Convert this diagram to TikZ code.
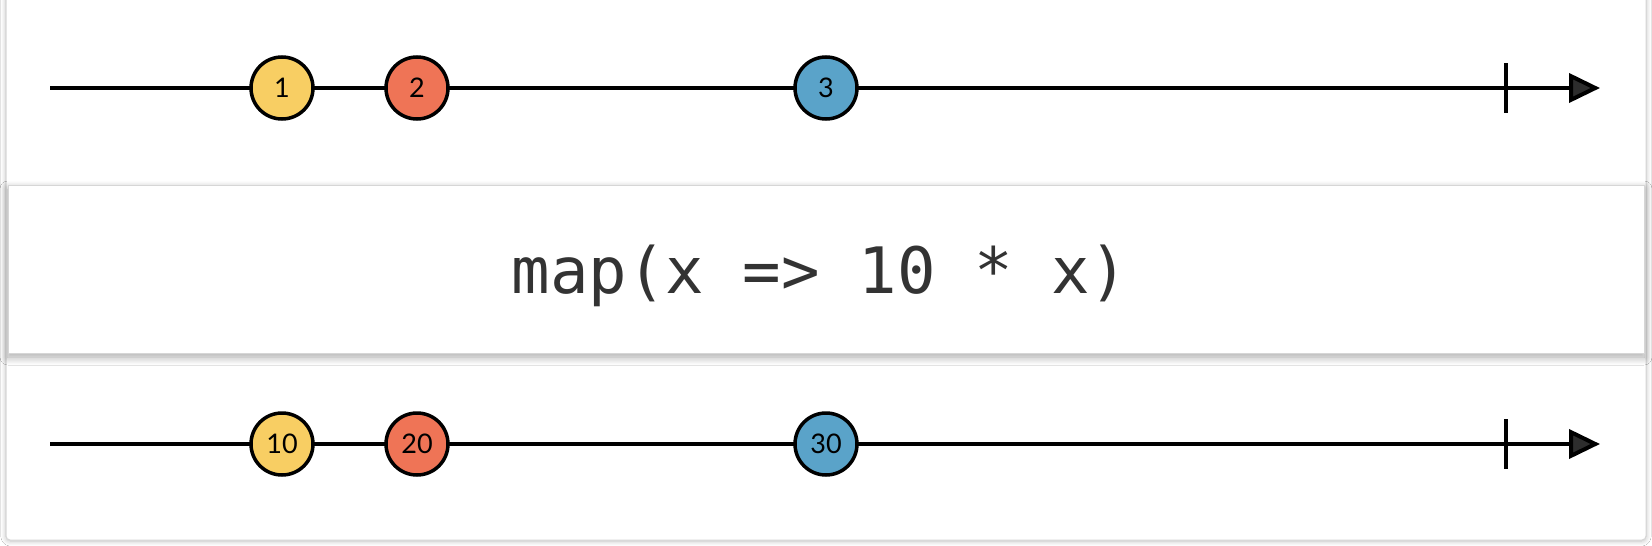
\documentclass[tikz,border=0pt]{standalone}
\usepackage{fontspec}
\usepackage{tikz}
\usetikzlibrary{arrows.meta}
\usetikzlibrary{shadows.blur}
\newfontfamily\etiqueta{Lato}
\newfontfamily\codigo{DejaVu Sans Mono}
\definecolor{amarillo}{RGB}{248,206,99}
\definecolor{rojo}{RGB}{239,116,86}
\definecolor{azul}{RGB}{90,163,201}
\definecolor{borde}{RGB}{214,214,214}
\definecolor{texto}{RGB}{51,51,51}
\begin{document}
\begin{tikzpicture}[x=1pt, y=-1pt,
    valor/.style={draw, circle, line width=3.5pt, minimum size=62pt, inner sep=0pt, font=\etiqueta\fontsize{27}{27}\selectfont},
    eje/.style={line width=4pt, -{Triangle[length=31pt, width=29pt]}},
    marca/.style={line width=4pt},
    tarjeta/.style={fill=white, draw=borde, line width=1pt}]
            \useasboundingbox (0,0) rectangle (1652,546);
            \fill[white] (0,0) rectangle (1652,546);
            % Tarjetas
            \draw[tarjeta, rounded corners=4pt, blur shadow={shadow xshift=0pt, shadow yshift=-1pt, shadow blur radius=5pt, shadow blur steps=10, shadow opacity=25}] (6,-10) rectangle (1646,540);
            \draw[tarjeta, blur shadow={shadow xshift=0pt, shadow yshift=-4pt, shadow blur radius=8pt, shadow blur steps=12, shadow opacity=35}] (8,185) rectangle (1644,353);
            \node[text=texto, anchor=base, inner sep=0pt, font=\codigo\fontsize{64}{66}\selectfont] (operador) at (820,293) {map(x => 10 * x)};

            % Entrada
            \coordinate (ini1) at (50,88);
            \coordinate (fin1) at (1506,88);
            \coordinate (punta1) at (1600,88);
            \draw[eje] (ini1) -- (punta1);
            \draw[marca] ([yshift=25pt]fin1) -- ([yshift=-25pt]fin1);
            \node[valor, fill=amarillo] (a1) at (282,88) {1};
            \node[valor, fill=rojo] (b1) at (417,88) {2};
            \node[valor, fill=azul] (c1) at (826,88) {3};

            % Salida
            \coordinate (ini2) at (50,444);
            \coordinate (fin2) at (1506,444);
            \coordinate (punta2) at (1600,444);
            \draw[eje] (ini2) -- (punta2);
            \draw[marca] ([yshift=25pt]fin2) -- ([yshift=-25pt]fin2);
            \node[valor, fill=amarillo] (a2) at (282,444) {10};
            \node[valor, fill=rojo] (b2) at (417,444) {20};
            \node[valor, fill=azul] (c2) at (826,444) {30};
          \end{tikzpicture}
\end{document}
